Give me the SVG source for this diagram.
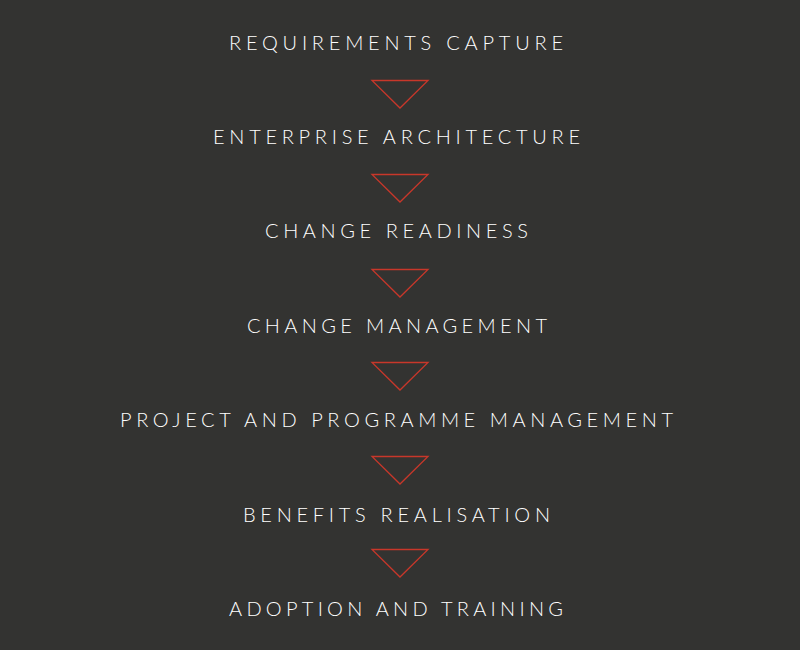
<svg xmlns="http://www.w3.org/2000/svg" width="800" height="650" viewBox="0 0 800 650">
<style>
.t{font-family:Lato,"Liberation Sans",sans-serif;font-weight:300;font-size:20px;fill:#ffffff;letter-spacing:3px}
.a{fill:none;stroke:#c8372a;stroke-width:1.3}
</style>
<defs>
<polygon id="tri" class="a" points="372,80.5 428,80.5 400,108"/>
</defs>
<rect width="800" height="650" fill="#333331"/>
<g id="n1"><text class="t" x="229" y="49.5" textLength="337" lengthAdjust="spacing">REQUIREMENTS CAPTURE</text></g>
<g id="n2"><text class="t" x="213" y="143.5" textLength="370" lengthAdjust="spacing">ENTERPRISE ARCHITECTURE</text></g>
<g id="n3"><text class="t" x="265" y="237.5" textLength="266" lengthAdjust="spacing">CHANGE READINESS</text></g>
<g id="n4"><text class="t" x="247" y="332.5" textLength="303" lengthAdjust="spacing">CHANGE MANAGEMENT</text></g>
<g id="n5"><text class="t" x="120" y="426.5" textLength="556" lengthAdjust="spacing">PROJECT AND PROGRAMME MANAGEMENT</text></g>
<g id="n6"><text class="t" x="243" y="521.5" textLength="310" lengthAdjust="spacing">BENEFITS REALISATION</text></g>
<g id="n7"><text class="t" x="229" y="615.5" textLength="337" lengthAdjust="spacing">ADOPTION AND TRAINING</text></g>
<g id="connectors">
<use href="#tri"/>
<use href="#tri" y="94"/>
<use href="#tri" y="189"/>
<use href="#tri" y="282"/>
<use href="#tri" y="376"/>
<use href="#tri" y="469"/>
</g>
</svg>
